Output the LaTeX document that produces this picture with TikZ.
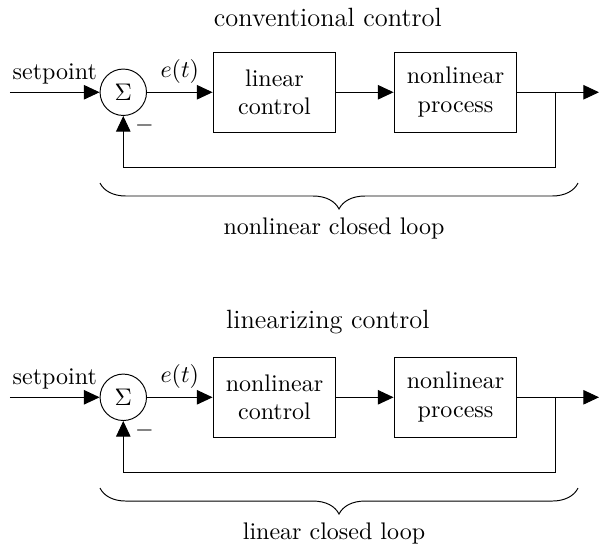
\documentclass[tikz,border=0pt]{standalone}
\usetikzlibrary{arrows.meta,decorations.pathreplacing}

\tikzset{
  block/.style={draw,align=center,minimum width=1.8cm,minimum height=1.17cm},
  sumnode/.style={draw,circle,inner sep=0pt,minimum size=0.68cm},
  title/.style={font=\fontsize{11}{13}\selectfont},
  loopbrace/.style={decorate,decoration={brace,mirror,amplitude=0.38cm}},
  >={Triangle[length=6.5pt,width=6pt]}
}

\begin{document}
\begin{tikzpicture}
\useasboundingbox (0,0) rectangle (8.77,-8.01);

% Conventional control
\node[title] (titleA) at (4.8,-0.25) {conventional control};
\coordinate (inA) at (0.146,-1.351);
\node[sumnode] (sumA) at (1.805,-1.351) {$\Sigma$};
\node[block] (ctrlA) at (4.019,-1.351) {linear\\control};
\node[block] (procA) at (6.669,-1.351) {nonlinear\\process};
\coordinate (brA) at (8.126,-1.351);
\coordinate (outA) at (8.77,-1.351);
\coordinate (fbA) at (8.126,-2.449);
\draw[->] (inA) -- node[above] (spA) {setpoint} (sumA);
\draw[->] (sumA) -- node[above] (errA) {$e(t)$} (ctrlA);
\draw[->] (ctrlA) -- (procA);
\draw (procA) -- (brA);
\draw[->] (brA) -- (outA);
\draw[->] (brA) -- (fbA) -| (sumA);
\node (minA) at (2.116,-1.84) {$-$};
\coordinate (brLA) at (1.464,-2.68);
\coordinate (brRA) at (8.463,-2.68);
\draw[loopbrace] (brLA) -- (brRA);
\node (loopA) at (4.89,-3.34) {nonlinear closed loop};

% Linearizing control
\begin{scope}[yshift=-4.466cm]
\node[title] (titleB) at (4.8,-0.25) {linearizing control};
\coordinate (inB) at (0.146,-1.351);
\node[sumnode] (sumB) at (1.805,-1.351) {$\Sigma$};
\node[block] (ctrlB) at (4.019,-1.351) {nonlinear\\control};
\node[block] (procB) at (6.669,-1.351) {nonlinear\\process};
\coordinate (brB) at (8.126,-1.351);
\coordinate (outB) at (8.77,-1.351);
\coordinate (fbB) at (8.126,-2.449);
\draw[->] (inB) -- node[above] (spB) {setpoint} (sumB);
\draw[->] (sumB) -- node[above] (errB) {$e(t)$} (ctrlB);
\draw[->] (ctrlB) -- (procB);
\draw (procB) -- (brB);
\draw[->] (brB) -- (outB);
\draw[->] (brB) -- (fbB) -| (sumB);
\node (minB) at (2.116,-1.84) {$-$};
\coordinate (brLB) at (1.464,-2.68);
\coordinate (brRB) at (8.463,-2.68);
\draw[loopbrace] (brLB) -- (brRB);
\node (loopB) at (4.89,-3.34) {linear closed loop};
\end{scope}

\end{tikzpicture}
\end{document}
